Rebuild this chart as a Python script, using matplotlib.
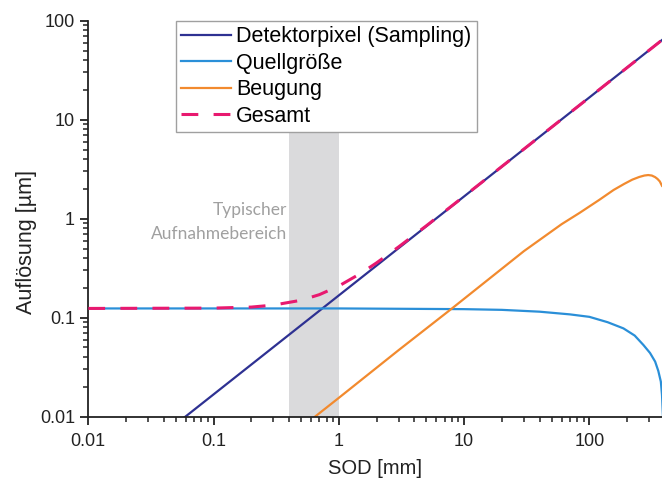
import matplotlib
matplotlib.use("Agg")
import matplotlib.pyplot as plt

plt.rcParams['font.family'] = ['Liberation Sans', 'DejaVu Sans']

# --------------------------
# DATA (SOD in mm, resolution in um)
# --------------------------
sod_pixel = [0.01, 380]
res_pixel = [0.00168, 63.8]

sod_source = [0.01, 1, 10, 20, 40, 70, 100, 140, 187, 230, 270, 305, 335, 355, 372, 380, 390]
res_source = [0.124, 0.124, 0.122, 0.12, 0.115, 0.108, 0.102, 0.09, 0.078, 0.066,
              0.053, 0.044, 0.036, 0.029, 0.0226, 0.0166, 0.008]

sod_diffr = [0.6, 1, 3, 8, 30, 60, 84, 120, 156, 190, 220, 250, 275, 295, 315, 335, 350, 365, 380]
res_diffr = [0.0093, 0.0155, 0.047, 0.124, 0.47, 0.88, 1.15, 1.55, 1.95, 2.25, 2.48, 2.64,
             2.73, 2.76, 2.73, 2.63, 2.52, 2.38, 2.15]

sod_total = [0.01, 0.1, 0.2, 0.3, 0.5, 0.7, 1, 1.5, 2, 3, 5, 10, 100, 380]
res_total = [0.124, 0.125, 0.128, 0.134, 0.15, 0.171, 0.209, 0.281, 0.358, 0.519, 0.849,
             1.685, 16.8, 63.8]

typical_range = (0.4, 1.0)

labels = ["Detektorpixel (Sampling)", "Quellgröße", "Beugung", "Gesamt"]

# --------------------------
# PLOT
# --------------------------
fig = plt.figure(figsize=(6.62, 4.83), dpi=100)
ax = fig.add_axes([0.1334, 0.1373, 0.8666, 0.8198])

ax.axvspan(*typical_range, color="#dadadc", lw=0, zorder=0)

ax.plot(sod_pixel, res_pixel, color="#2e3192", lw=1.6, label=labels[0], zorder=2)
ax.plot(sod_source, res_source, color="#2a8fd8", lw=1.6, label=labels[1], zorder=2)
ax.plot(sod_diffr, res_diffr, color="#f28a2e", lw=1.6, label=labels[2], zorder=2)
ax.plot(sod_total, res_total, color="#e8196f", lw=2.2, dashes=(5.5, 5), label=labels[3], zorder=3)

ax.set_xscale("log")
ax.set_yscale("log")
ax.set_xlim(0.01, 380)
ax.set_ylim(0.01, 100)

ax.set_xticks([0.01, 0.1, 1, 10, 100])
ax.set_xticklabels(["0.01", "0.1", "1", "10", "100"])
ax.set_yticks([0.01, 0.1, 1, 10, 100])
ax.set_yticklabels(["0.01", "0.1", "1", "10", "100"])

for side in ["top", "right"]:
    ax.spines[side].set_visible(False)
for side in ["left", "bottom"]:
    ax.spines[side].set_linewidth(1.3)
    ax.spines[side].set_color("#222222")

ax.tick_params(which="major", direction="out", length=6, width=1.3, labelsize=13,
               color="#222222", labelcolor="#222222")
ax.tick_params(axis="x", which="major", pad=6)
ax.tick_params(which="minor", direction="out", length=3.5, width=1.1, color="#222222")

ax.set_xlabel("SOD [mm]", fontsize=14.5, color="#222222", labelpad=6)
ax.set_ylabel("Auflösung [µm]", fontsize=15.5, color="#222222")
ax.yaxis.set_label_coords(-0.09, 0.44)

# shaded range caption
ax.text(0.385, 0.93, "Typischer\nAufnahmebereich", ha="right", va="center",
        fontsize=12.5, color="#a0a0a0", family=["Lato", "DejaVu Sans"],
        linespacing=1.65)

leg = ax.legend(loc="upper left", bbox_to_anchor=(0.153, 1.0), fontsize=15.5,
                frameon=True, fancybox=False, edgecolor="#a0a0a0", framealpha=1,
                handlelength=2.3, labelspacing=0.26, borderpad=0.25, handletextpad=0.25,
                borderaxespad=0)
leg.get_frame().set_linewidth(1.0)

plt.savefig("out.png", dpi=100)
plt.close()
